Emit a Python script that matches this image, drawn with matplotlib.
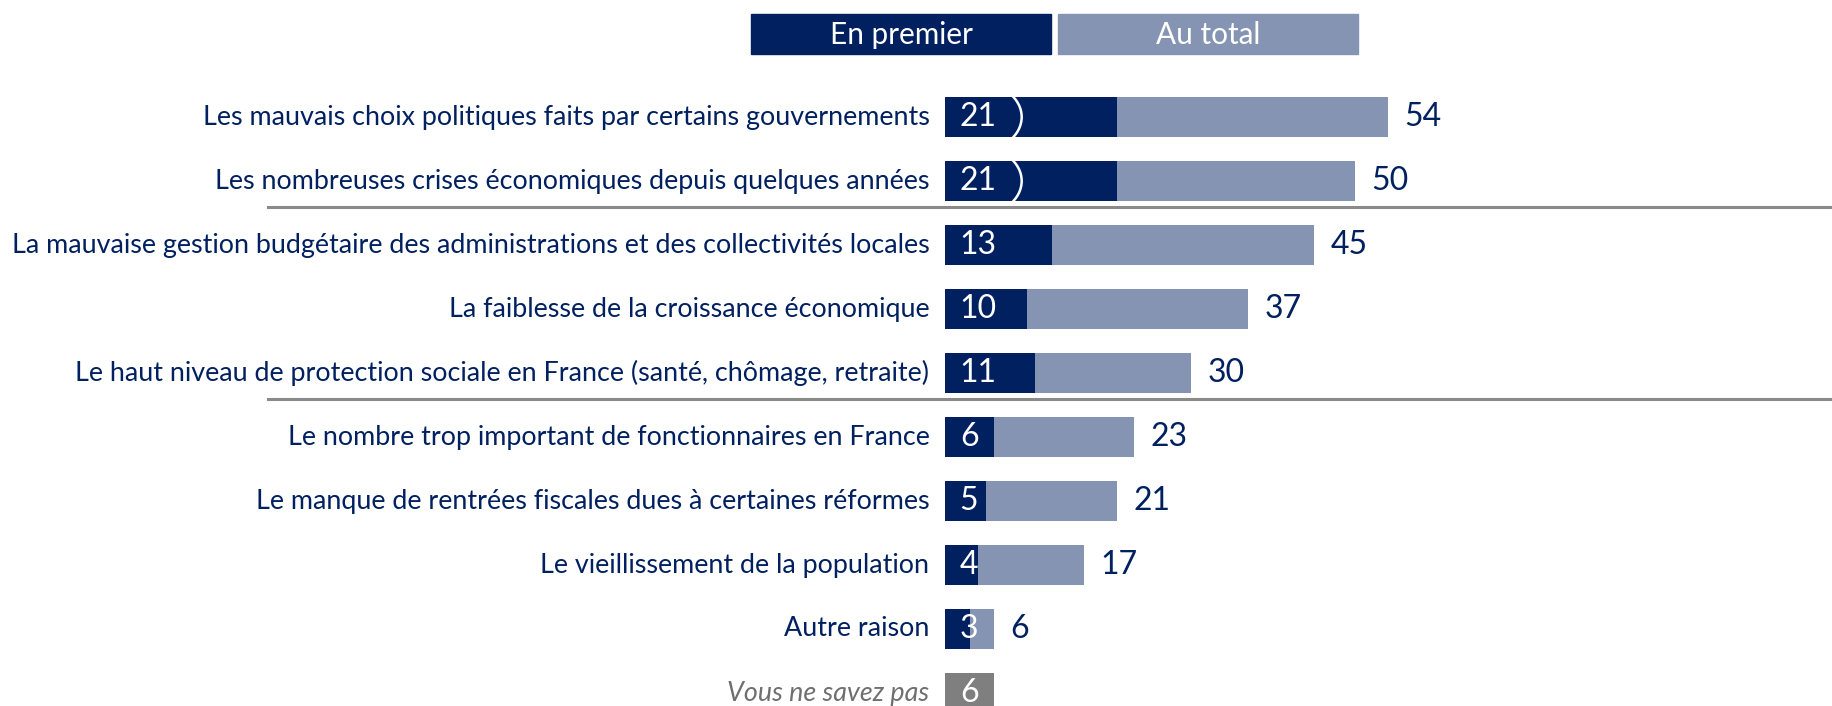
import matplotlib.pyplot as plt
import matplotlib.transforms as mtransforms
from matplotlib.patches import Ellipse, Rectangle
from matplotlib.lines import Line2D

# data
categories = [
    "Les mauvais choix politiques faits par certains gouvernements",
    "Les nombreuses crises économiques depuis quelques années",
    "La mauvaise gestion budgétaire des administrations et des collectivités locales",
    "La faiblesse de la croissance économique",
    "Le haut niveau de protection sociale en France (santé, chômage, retraite)",
    "Le nombre trop important de fonctionnaires en France",
    "Le manque de rentrées fiscales dues à certaines réformes",
    "Le vieillissement de la population",
    "Autre raison",
]
en_premier = [21, 21, 13, 10, 11, 6, 5, 4, 3]
au_total = [54, 50, 45, 37, 30, 23, 21, 17, 6]
nsp_label = "Vous ne savez pas"
nsp_value = 6
legend_labels = ["En premier", "Au total"]
circled = [0, 1]          # rows with the white ring around the value
separators_after = [1, 4]  # rows followed by a grey line

DARK = "#002060"
LIGHT = "#8594b2"
GREY = "#7f7f7f"
LINE = "#8a8a8a"
FONT = "Lato"
CAT_SIZE = 19.4
VAL_SIZE = 23

W, H = 1832, 706
fig = plt.figure(figsize=(W / 100, H / 100), dpi=100)

# axes: x=0 at px 945, 8.2 px per unit; rows centered at 117 + 64*i px
x0_px, px_per_unit = 945, 8.2
ax = fig.add_axes([x0_px / W, 0, 1 - x0_px / W, 1])
ax.set_xlim(0, (W - x0_px) / px_per_unit)
ax.set_ylim((H - 117) / 64, -117 / 64)
ax.axis("off")

ys = list(range(len(categories)))
bar_h = 0.62

ax.barh(ys, au_total, height=bar_h, color=LIGHT, zorder=2)
ax.barh(ys, en_premier, height=bar_h, color=DARK, zorder=3)
y_nsp = len(categories)
ax.barh([y_nsp], [nsp_value], height=bar_h, color=GREY, zorder=3)

for y, cat, p, t in zip(ys, categories, en_premier, au_total):
    ax.text(-1.9, y, cat, ha="right", va="center", fontsize=CAT_SIZE,
            color=DARK, family=FONT, clip_on=False)
    ax.text(1.8, y, str(p), ha="left", va="center", fontsize=VAL_SIZE,
            color="white", family=FONT, zorder=5)
    ax.text(t + 2.0, y, str(t), ha="left", va="center", fontsize=VAL_SIZE,
            color=DARK, family=FONT)

ax.text(-1.9, y_nsp, nsp_label, ha="right", va="center", fontsize=CAT_SIZE,
        color="#6f6f6f", style="italic", family=FONT, clip_on=False)
ax.text(1.8, y_nsp, str(nsp_value), ha="left", va="center", fontsize=VAL_SIZE,
        color="white", family=FONT, zorder=5)

# separator lines, spanning from px 268 to the right edge
blend = mtransforms.blended_transform_factory(fig.transFigure, ax.transData)
for i in separators_after:
    yl = i + 0.5 - 0.1
    fig.add_artist(Line2D([268 / W, 1], [yl, yl], transform=blend,
                          color=LINE, lw=2.2, zorder=4))

# white rings around the first values
for i in circled:
    e = Ellipse((3.9, i), width=10.9, height=1.08, fill=False,
                edgecolor="white", lw=1.8, zorder=6, clip_on=False)
    ax.add_patch(e)

# legend boxes at the top
boxes = [(751, 1051, DARK), (1058, 1358, LIGHT)]
for (xa, xb, col), lab in zip(boxes, legend_labels):
    fig.add_artist(Rectangle((xa / W, 1 - 54 / H), (xb - xa) / W, 40 / H,
                             transform=fig.transFigure, color=col))
    fig.text((xa + xb) / 2 / W, 1 - 35 / H, lab, ha="center", va="center",
             fontsize=21.4, color="white", family=FONT)

plt.savefig("out.png", dpi=100)
plt.close()
